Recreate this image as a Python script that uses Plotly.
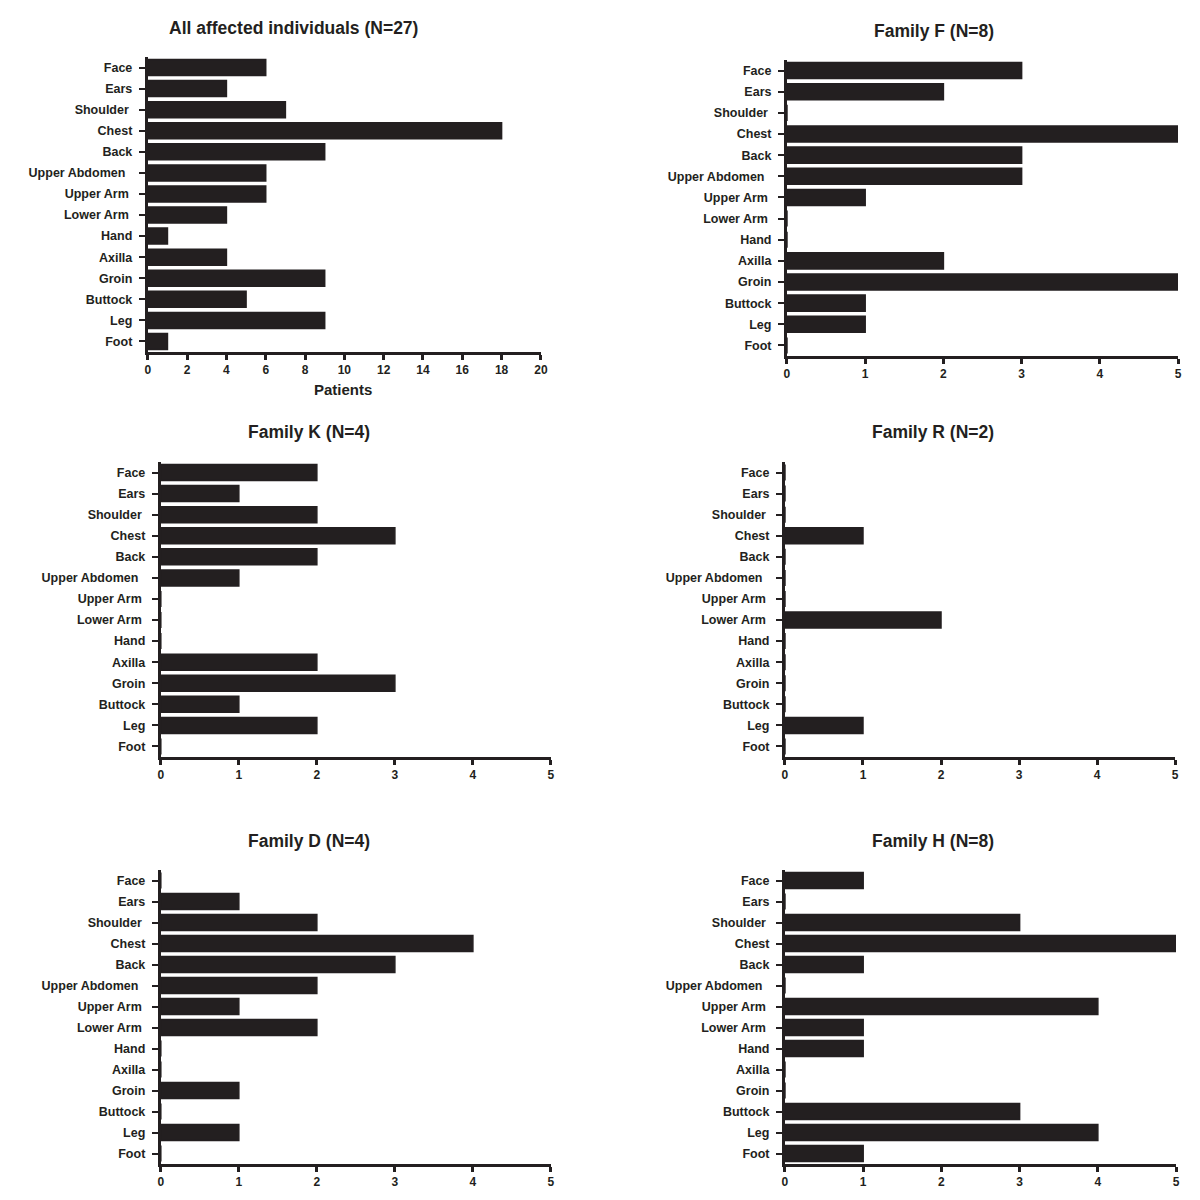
import plotly.graph_objects as go

categories = ["Face", "Ears", "Shoulder", "Chest", "Back", "Upper Abdomen", "Upper Arm",
              "Lower Arm", "Hand", "Axilla", "Groin", "Buttock", "Leg", "Foot"]
tick_labels = ["Face", "Ears", "Shoulder\u00a0", "Chest", "Back", "Upper Abdomen\u00a0\u00a0",
               "Upper Arm\u00a0", "Lower Arm\u00a0", "Hand", "Axilla", "Groin", "Buttock", "Leg", "Foot"]

all_vals = [6, 4, 7, 18, 9, 6, 6, 4, 1, 4, 9, 5, 9, 1]
fam_f = [3, 2, 0, 5, 3, 3, 1, 0, 0, 2, 5, 1, 1, 0]
fam_k = [2, 1, 2, 3, 2, 1, 0, 0, 0, 2, 3, 1, 2, 0]
fam_r = [0, 0, 0, 1, 0, 0, 0, 2, 0, 0, 0, 0, 1, 0]
fam_d = [0, 1, 2, 4, 3, 2, 1, 2, 0, 0, 1, 0, 1, 0]
fam_h = [1, 0, 3, 5, 1, 0, 4, 1, 1, 0, 0, 3, 4, 1]

titles = ["All affected individuals (N=27)", "Family F (N=8)", "Family K (N=4)",
          "Family R (N=2)", "Family D (N=4)", "Family H (N=8)"]
series = [all_vals, fam_f, fam_k, fam_r, fam_d, fam_h]
xmax = [20, 5, 5, 5, 5, 5]
xdtick = [2, 1, 1, 1, 1, 1]

OFF = 8                  # page body margin
W = H = 1200 - 2 * OFF   # keep the figure inside the window (no scrolling)
SX, BX = 0.9913, 2.3     # measured horizontal placement correction
def fx(p):
    return ((p - BX) / SX - OFF) / W
def fy(p):
    return 1 - (p - OFF) / H

# target pixel boxes in the 1200x1200 window (x0, x1, ytop, ybottom)
boxes = [(147, 540, 57, 352), (786, 1177, 60, 356), (160, 550, 462, 757),
         (784, 1174, 462, 757), (160, 550, 870, 1164), (784, 1175, 870, 1164)]
title_pos = [(293, 28), (933, 31), (308, 432), (932, 432), (308, 841), (932, 841)]

INK = "#231f20"
FONT = "Liberation Sans, Arial, sans-serif"

fig = go.Figure()
layout = dict(width=W, height=H, margin=dict(l=0, r=0, t=0, b=0),
              paper_bgcolor="white", plot_bgcolor="white", showlegend=False,
              annotations=[])

for i, (vals, (x0, x1, yt, yb)) in enumerate(zip(series, boxes)):
    n = "" if i == 0 else str(i + 1)
    fig.add_trace(go.Bar(x=vals, y=categories, orientation="h",
                         marker=dict(color=INK, line=dict(width=1.5, color=INK)),
                         width=0.76, xaxis="x" + n, yaxis="y" + n, hoverinfo="x+y",
                         cliponaxis=False))
    layout["xaxis" + n] = dict(
        domain=[fx(x0), fx(x1)], anchor="y" + n, range=[0, xmax[i]],
        dtick=xdtick[i], tick0=0, showgrid=False, zeroline=False,
        showline=True, linecolor=INK, linewidth=3,
        ticks="outside", ticklen=5, tickwidth=3, tickcolor=INK,
        tickfont=dict(family=FONT, size=12, color=INK, weight="bold"),
        fixedrange=True)
    layout["yaxis" + n] = dict(
        domain=[fy(yb), fy(yt)], anchor="x" + n,
        type="category", categoryorder="array", categoryarray=categories,
        tickmode="array", tickvals=categories, ticktext=tick_labels,
        range=[13.5, -0.5], showgrid=False, zeroline=False,
        showline=True, linecolor=INK, linewidth=3,
        ticks="outside", ticklen=6, tickwidth=2, tickcolor=INK,
        ticklabelstandoff=4,
        tickfont=dict(family=FONT, size=12.5, color=INK, weight="bold"),
        fixedrange=True)
    tx, ty = title_pos[i]
    layout["annotations"].append(dict(
        text=titles[i], x=fx(tx), y=fy(ty), xref="paper", yref="paper",
        xanchor="center", yanchor="middle", showarrow=False,
        font=dict(family=FONT, size=17.5, color=INK, weight="bold")))

layout["annotations"].append(dict(
    text="Patients", x=fx(342), y=fy(390), xref="paper", yref="paper",
    xanchor="center", yanchor="middle", showarrow=False,
    font=dict(family=FONT, size=15, color=INK, weight="bold")))

fig.update_layout(**layout)
fig.write_html("out.html")
